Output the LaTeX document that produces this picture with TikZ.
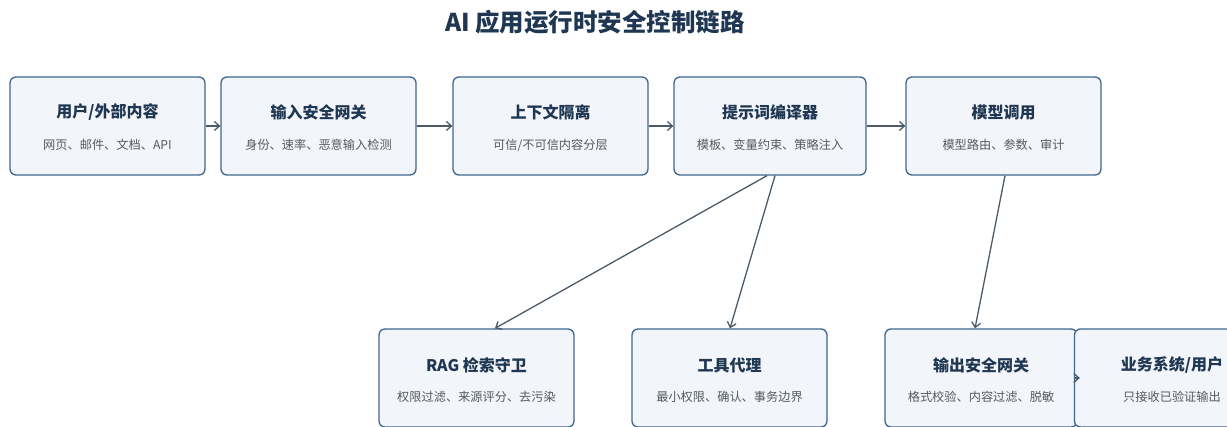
\documentclass[tikz,border=0pt]{standalone}
\usepackage{fontspec}
\setmainfont{Noto Sans CJK SC}
\usetikzlibrary{arrows.meta}
\definecolor{boxfill}{HTML}{F2F5F9}
\definecolor{boxline}{HTML}{3F6690}
\definecolor{arrowc}{HTML}{4B5B69}
\definecolor{titlec}{HTML}{1F3752}
\definecolor{subc}{HTML}{555B62}
\tikzset{
  stagebox/.style={draw=boxline, line width=1.3pt, fill=boxfill, rounded corners=6pt,
    minimum width=195pt, minimum height=98pt, inner sep=0pt},
  boxtitle/.style={font=\bfseries\fontsize{16}{19}\selectfont, text=titlec, inner sep=0pt},
  boxsub/.style={font=\fontsize{12.2}{14}\selectfont, text=subc, inner sep=0pt},
  flow/.style={draw=arrowc, line width=1.3pt, -{Straight Barb[length=5pt,width=9pt]}},
}
\begin{document}
\begin{tikzpicture}[x=1pt,y=-1pt]
\useasboundingbox (0,0) rectangle (1227,427);
\fill[white] (0,0) rectangle (1227,427);
\node[font=\bfseries\fontsize{24.5}{28}\selectfont, text=titlec, inner sep=0pt] (title) at (595,22) {AI 应用运行时安全控制链路};

% top row
\node[stagebox] (b1) at (107.5,126) {};
\node[stagebox] (b2) at (318.5,126) {};
\node[stagebox] (b3) at (550.5,126) {};
\node[stagebox, minimum width=192pt] (b4) at (770,126) {};
\node[stagebox] (b5) at (1003.5,126) {};
% bottom row
\node[stagebox] (r1) at (476.5,378) {};
\node[stagebox] (r2) at (729.5,378) {};
\node[stagebox, minimum width=192pt] (r3) at (981,378) {};
\node[stagebox] (r4) at (1172,378) {};

\node[boxtitle] (t1) at ([yshift=14pt]b1.center) {用户/外部内容};
\node[boxsub]   (s1) at ([yshift=-19pt]b1.center) {网页、邮件、文档、API};
\node[boxtitle] (t2) at ([yshift=14pt]b2.center) {输入安全网关};
\node[boxsub]   (s2) at ([yshift=-19pt]b2.center) {身份、速率、恶意输入检测};
\node[boxtitle] (t3) at ([yshift=14pt]b3.center) {上下文隔离};
\node[boxsub]   (s3) at ([yshift=-19pt]b3.center) {可信/不可信内容分层};
\node[boxtitle] (t4) at ([yshift=14pt]b4.center) {提示词编译器};
\node[boxsub]   (s4) at ([yshift=-19pt]b4.center) {模板、变量约束、策略注入};
\node[boxtitle] (t5) at ([yshift=14pt]b5.center) {模型调用};
\node[boxsub]   (s5) at ([yshift=-19pt]b5.center) {模型路由、参数、审计};

\node[boxtitle] (u1) at ([yshift=13pt]r1.center) {RAG 检索守卫};
\node[boxsub]   (v1) at ([yshift=-19pt]r1.center) {权限过滤、来源评分、去污染};
\node[boxtitle] (u2) at ([yshift=13pt]r2.center) {工具代理};
\node[boxsub]   (v2) at ([yshift=-19pt]r2.center) {最小权限、确认、事务边界};
\node[boxtitle] (u3) at ([yshift=13pt]r3.center) {输出安全网关};
\node[boxsub]   (v3) at ([yshift=-19pt]r3.center) {格式校验、内容过滤、脱敏};
\node[boxtitle] (u4) at ([yshift=13pt]r4.center) {业务系统/用户};
\node[boxsub]   (v4) at ([yshift=-19pt]r4.center) {只接收已验证输出};

\draw[flow] (b1.east) -- (b2.west);
\draw[flow] (b2.east) -- (b3.west);
\draw[flow] (b3.east) -- (b4.west);
\draw[flow] (b4.east) -- (b5.west);
\draw[flow] ([xshift=-3pt]b4.south) -- ([xshift=18.5pt]r1.north);
\draw[flow] ([xshift=5pt]b4.south) -- ([xshift=0.5pt]r2.north);
\draw[flow] ([xshift=1.5pt]b5.south) -- ([xshift=-6pt]r3.north);
\draw[flow] ([xshift=-3pt]r3.east) -- ([xshift=6pt]r4.west);
\end{tikzpicture}
\end{document}
